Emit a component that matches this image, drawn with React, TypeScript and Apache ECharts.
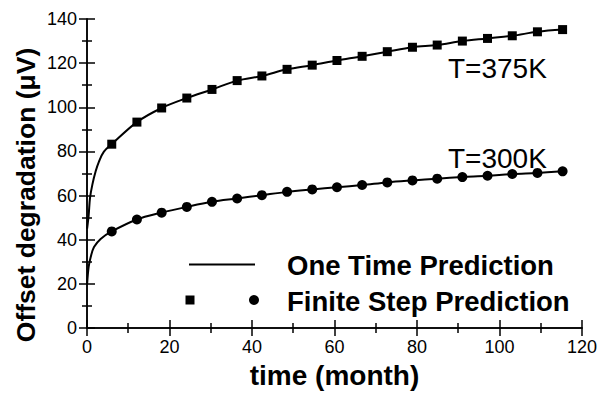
import React, { useEffect, useRef } from "react";
import * as echarts from "echarts";

const months = [6, 12.1, 18.1, 24.2, 30.3, 36.4, 42.4, 48.5, 54.6, 60.6, 66.7, 72.8, 78.9, 84.9, 91.0, 97.1, 103.1, 109.2, 115.3];
const finite375 = [83.3, 93.3, 99.7, 104.2, 108.1, 112.1, 114.2, 117.2, 119.1, 121.2, 123.1, 125.2, 127.2, 128.2, 130.0, 131.2, 132.4, 134.2, 135.2];
const finite300 = [43.8, 49.2, 52.3, 54.9, 57.2, 58.7, 60.2, 61.7, 62.8, 63.8, 64.8, 66.0, 66.9, 67.7, 68.4, 69.0, 69.8, 70.3, 71.0];
// start of the one-time prediction curves (read near the origin)
const early375X = [0.03, 0.4, 0.73, 1.3, 2.1, 2.9, 4.1];
const early375Y = [45, 51, 59, 65, 71, 75.4, 79.9];
const early300X = [0.03, 0.4, 0.9, 1.7, 3.3];
const early300Y = [20, 27.7, 32.2, 36.7, 40.4];
const xTicks = { min: 0, max: 120, interval: 20 };
const yTicks = { min: 0, max: 140, interval: 20 };

const FONT = "Liberation Sans, Arial, sans-serif";

export default function App() {
  const ref = useRef<HTMLDivElement>(null);
  useEffect(() => {
    if (!ref.current) return;
    const chart = echarts.init(ref.current, null, { renderer: "svg" });
    const pairs = (xs: number[], ys: number[]) => xs.map((x, i) => [x, ys[i]]);
    const line375 = pairs(early375X, early375Y).concat(pairs(months, finite375));
    const line300 = pairs(early300X, early300Y).concat(pairs(months, finite300));

    const axisCommon = (showLabel: boolean) => ({
      type: "value" as const,
      axisLine: { show: true, lineStyle: { color: "#000", width: 1.5 } },
      axisTick: { show: true, inside: true, length: 8, lineStyle: { color: "#000", width: 1.5 } },
      minorTick: { show: true, splitNumber: 2, length: 5, lineStyle: { color: "#000", width: 1.5 } },
      splitLine: { show: false },
      axisLabel: { show: showLabel, color: "#000", fontSize: 18, fontFamily: FONT, margin: 10 },
    });

    chart.setOption({
      animation: false,
      backgroundColor: "#fff",
      textStyle: { fontFamily: FONT },
      grid: { left: 87, right: 18, top: 19, bottom: 62 },
      xAxis: [
        {
          ...axisCommon(true),
          ...xTicks,
          position: "bottom",
          name: "time (month)",
          nameLocation: "middle",
          nameGap: 29,
          nameTextStyle: { color: "#000", fontSize: 28, fontWeight: "bold", fontFamily: FONT },
        },
        { ...axisCommon(false), ...xTicks, position: "top" },
      ],
      yAxis: [
        { ...axisCommon(true), ...yTicks, position: "left" },
        { ...axisCommon(false), ...yTicks, position: "right" },
      ],
      series: [
        {
          type: "line",
          data: line375,
          smooth: 0.35,
          showSymbol: false,
          lineStyle: { color: "#000", width: 2 },
        },
        {
          type: "line",
          data: line300,
          smooth: 0.35,
          showSymbol: false,
          lineStyle: { color: "#000", width: 2 },
        },
        {
          type: "scatter",
          data: pairs(months, finite375),
          symbol: "rect",
          symbolSize: 9,
          itemStyle: { color: "#000", opacity: 1 },
        },
        {
          type: "scatter",
          data: pairs(months, finite300),
          symbol: "circle",
          symbolSize: 10,
          itemStyle: { color: "#000", opacity: 1 },
        },
      ],
      graphic: [
        {
          type: "text",
          x: 26,
          y: 195,
          rotation: Math.PI / 2,
          style: {
            text: "Offset degradation (\u03bcV)",
            fill: "#000",
            fontSize: 26.5,
            fontWeight: "bold",
            fontFamily: FONT,
            textAlign: "center",
            textVerticalAlign: "middle",
          },
        },
        {
          type: "text",
          x: 448,
          y: 68,
          style: { text: "T=375K", fill: "#000", fontSize: 28, fontFamily: FONT, textAlign: "left", textVerticalAlign: "middle" },
        },
        {
          type: "text",
          x: 448,
          y: 158,
          style: { text: "T=300K", fill: "#000", fontSize: 28, fontFamily: FONT, textAlign: "left", textVerticalAlign: "middle" },
        },
        {
          type: "line",
          shape: { x1: 189, y1: 264.5, x2: 255, y2: 264.5 },
          style: { stroke: "#000", lineWidth: 2 },
        },
        {
          type: "text",
          x: 287,
          y: 265,
          style: { text: "One Time Prediction", fill: "#000", fontSize: 27.5, fontWeight: "bold", fontFamily: FONT, textAlign: "left", textVerticalAlign: "middle" },
        },
        {
          type: "rect",
          shape: { x: 185.5, y: 295.5, width: 9, height: 9 },
          style: { fill: "#000" },
        },
        {
          type: "circle",
          shape: { cx: 254, cy: 300, r: 5 },
          style: { fill: "#000" },
        },
        {
          type: "text",
          x: 287,
          y: 301,
          style: { text: "Finite Step Prediction", fill: "#000", fontSize: 27.5, fontWeight: "bold", fontFamily: FONT, textAlign: "left", textVerticalAlign: "middle" },
        },
      ],
    });
    return () => chart.dispose();
  }, []);
  return <div ref={ref} style={{ width: 600, height: 394, position: "absolute", left: 0, top: 0 }} />;
}
